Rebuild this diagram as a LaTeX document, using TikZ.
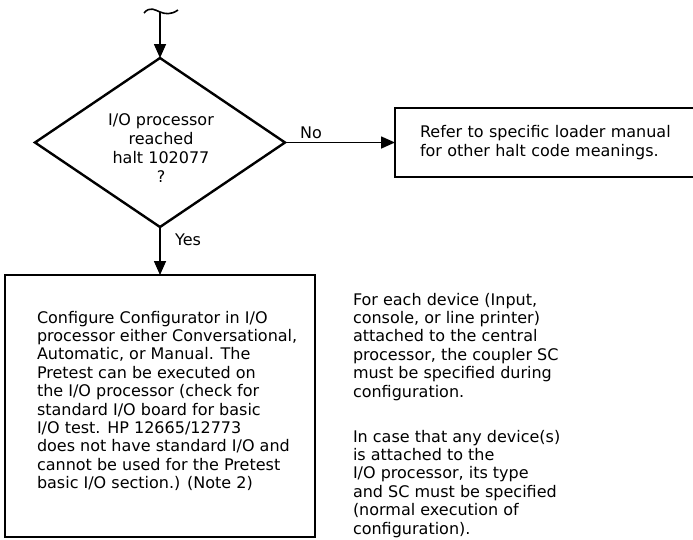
\documentclass[tikz,border=0pt]{standalone}
\usepackage{fontspec}
\setmainfont{DejaVu Sans}
\usetikzlibrary{arrows.meta,shapes.geometric}
\begin{document}
\begin{tikzpicture}[x=1pt,y=-1pt,
  every node/.style={inner sep=0pt, outer sep=0pt},
  body/.style={font=\fontsize{16}{18.4}\selectfont, align=left},
  decision/.style={diamond, draw, line width=2.4pt, minimum width=250pt, minimum height=169pt},
  procbox/.style={rectangle, draw, line width=2.4pt},
  flow/.style={line width=1.6pt, -{Triangle[length=14pt,width=12pt]}},
  lbl/.style={font=\fontsize{16}{18}\selectfont}]
\useasboundingbox (0,0) rectangle (693,539);
% entry break symbol
\coordinate (entry) at (160,12);
\draw[line width=1.6pt] (144,13) .. controls (150,6) and (155,10) .. (entry) .. controls (165,14) and (171,15) .. (178,10);
% decision
\node[decision] (dec) at (160,142.5) {};
\node[font=\fontsize{16}{19}\selectfont, align=center] (dectext) at (161,148) {I/O processor\\reached\\halt 102077\\?};
\draw[flow] (entry) -- (dec.north);
% right box (open at the right edge)
\node[body, minimum height=69pt, text width=260pt, inner xsep=25pt, anchor=west] (refer) at (395,142.5)
  {Refer to specific loader manual\\for other halt code meanings.};
\draw[line width=2.4pt] ([xshift=300pt]refer.north west) -- (refer.north west) -- (refer.south west) -- ([xshift=300pt]refer.south west);
\draw[flow] (dec.east) -- (refer.west);
\node[lbl] (no) at (311,133) {No};
% configuration box
\node[procbox, minimum width=310pt, minimum height=262pt] (cfg) at (160,406) {};
\node[body, anchor=north west] (cfgtext) at (37,311)
  {Configure Configurator in I/O\\processor either Conversational,\\Automatic, or Manual. The\\Pretest can be executed on\\the I/O processor (check for\\standard I/O board for basic\\I/O test. HP 12665/12773\\does not have standard I/O and\\cannot be used for the Pretest\\basic I/O section.) (Note 2)};
\draw[flow] (dec.south) -- (cfg.north);
\node[lbl] (yes) at (188,240) {Yes};
% notes
\node[body, anchor=north west] (note1) at (353,293)
  {For each device (Input,\\console, or line printer)\\attached to the central\\processor, the coupler SC\\must be specified during\\configuration.};
\node[body, anchor=north west] (note2) at (353,430)
  {In case that any device(s)\\is attached to the\\I/O processor, its type\\and SC must be specified\\(normal execution of\\configuration).};
\end{tikzpicture}
\end{document}
